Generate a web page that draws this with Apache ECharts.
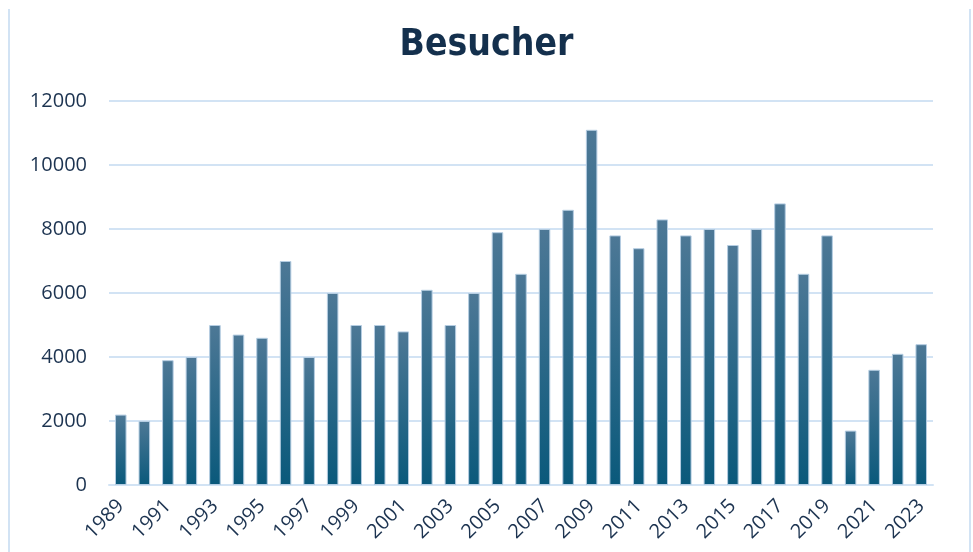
<!DOCTYPE html>
<html>
<head>
<meta charset="utf-8">
<style>
  html, body { margin: 0; padding: 0; background: #fff; }
  #chart { width: 973px; height: 552px; }
</style>
<script src="https://cdn.jsdelivr.net/npm/echarts@6/dist/echarts.min.js"></script>
</head>
<body>
<div id="chart"></div>
<script>
// Jahre und Besucherzahlen
var years = ['1989','1990','1991','1992','1993','1994','1995','1996','1997','1998',
  '1999','2000','2001','2002','2003','2004','2005','2006','2007','2008',
  '2009','2010','2011','2012','2013','2014','2015','2016','2017','2018',
  '2019','2020','2021','2022','2023'];
var besucher = [2200, 2000, 3900, 4000, 5000, 4700, 4600, 7000, 4000, 6000,
  5000, 5000, 4800, 6100, 5000, 6000, 7900, 6600, 8000, 8600,
  11100, 7800, 7400, 8300, 7800, 8000, 7500, 8000, 8800, 6600,
  7800, 1700, 3600, 4100, 4400];

var textColor = '#1c3350';
var lineColor = '#d2e3f4';

var chart = echarts.init(document.getElementById('chart'));
var option = {
  animation: false,
  title: {
    text: 'Besucher',
    left: 'center',
    top: 22,
    textStyle: {
      fontFamily: '"DejaVu Sans Condensed", "Liberation Sans Narrow", Roboto, sans-serif',
      fontWeight: 'bold', fontSize: 37, color: '#14304d'
    }
  },
  grid: { left: 109, right: 40, top: 101, bottom: 67 },
  xAxis: {
    type: 'category',
    data: years,
    axisLine: { lineStyle: { color: lineColor, width: 2 } },
    axisTick: { show: false },
    axisLabel: {
      interval: 1, rotate: 45, margin: 18,
      fontFamily: 'Open Sans', fontSize: 20, color: textColor
    }
  },
  yAxis: {
    type: 'value',
    min: 0, max: 12000, interval: 2000,
    axisLine: { show: false },
    axisTick: { show: false },
    axisLabel: {
      margin: 22, fontFamily: 'Open Sans', fontSize: 20, color: textColor,
      formatter: function (v) { return String(v); }
    },
    splitLine: { lineStyle: { color: lineColor, width: 2 } }
  },
  series: [{
    type: 'bar',
    data: besucher,
    barWidth: '49%',
    itemStyle: {
      borderColor: '#b5cde2', borderWidth: 1,
      color: new echarts.graphic.LinearGradient(0, 0, 0, 1, [
        { offset: 0, color: '#4d7896' },
        { offset: 1, color: '#0a597b' }
      ], false)
    }
  }],
  graphic: [
    { type: 'line', shape: { x1: 9, y1: 9, x2: 9, y2: 552 }, style: { stroke: lineColor, lineWidth: 2 } },
    { type: 'line', shape: { x1: 970, y1: 9, x2: 970, y2: 552 }, style: { stroke: lineColor, lineWidth: 2 } }
  ]
};
chart.setOption(option);
</script>
</body>
</html>
